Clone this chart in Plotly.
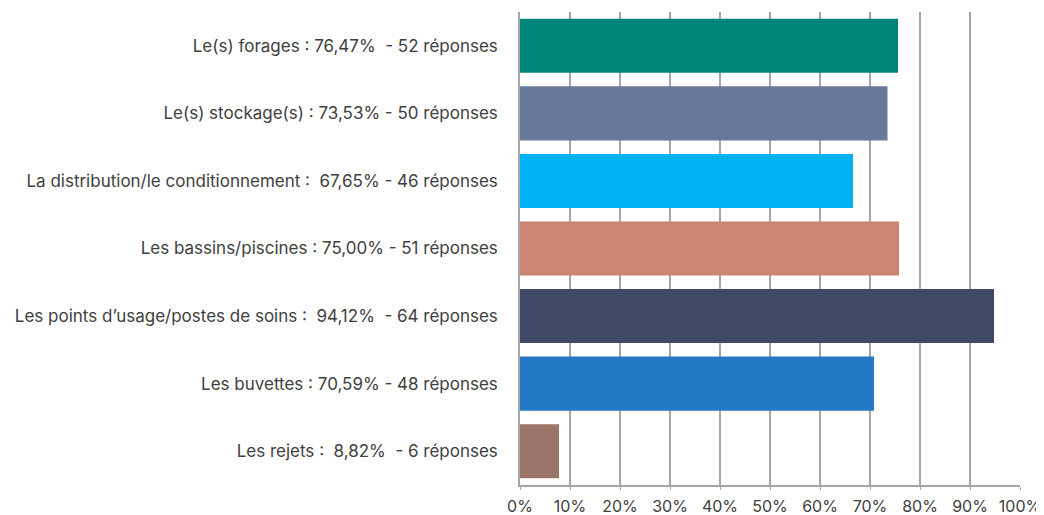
import plotly.graph_objects as go

categories = [
    "Le(s) forages : 76,47%  - 52 réponses",
    "Le(s) stockage(s) : 73,53% - 50 réponses",
    "La distribution/le conditionnement :  67,65% - 46 réponses",
    "Les bassins/piscines : 75,00% - 51 réponses",
    "Les points d’usage/postes de soins :  94,12%  - 64 réponses",
    "Les buvettes : 70,59% - 48 réponses",
    "Les rejets :  8,82%  - 6 réponses",
]
values = [75.6, 73.5, 66.6, 75.8, 94.8, 70.8, 7.8]
colors = ["#00857A", "#687A9C", "#00B2F5", "#CC8573", "#3F4A69", "#2479C6", "#9A7468"]
tick_vals = [0, 10, 20, 30, 40, 50, 60, 70, 80, 90, 100]
tick_text = [f"{v}%" for v in tick_vals]

fig = go.Figure(go.Bar(
    x=values, y=categories, orientation="h",
    marker=dict(color=colors, line=dict(width=0)),
    hoverinfo="skip",
))

# the page body has an 8px default margin; compensate so the plot lands where the reference has it
fig.update_layout(
    width=1036, height=507,
    margin=dict(l=512, r=24, t=4, b=30),
    paper_bgcolor="white", plot_bgcolor="white",
    bargap=0.2,
    showlegend=False,
    font=dict(family="Inter, Open Sans, sans-serif", size=16, color="#404040"),
)
fig.update_xaxes(
    range=[0, 100], tickvals=tick_vals, ticktext=tick_text,
    showgrid=True, gridcolor="#a6a6a6", gridwidth=1.5,
    showline=True, linecolor="#a6a6a6", linewidth=1.5,
    ticks="outside", ticklen=3, tickcolor="#a6a6a6",
    ticklabelstandoff=3,
    zeroline=False, fixedrange=True, automargin=False,
    tickfont=dict(size=16, color="#404040"),
)
fig.update_yaxes(
    categoryorder="array", categoryarray=categories[::-1],
    showline=True, linecolor="#a6a6a6", linewidth=1.5,
    ticks="", ticklabelstandoff=17, showgrid=False, automargin=False,
    tickfont=dict(size=17, color="#404040"), fixedrange=True,
)

fig.write_html("out.html")
